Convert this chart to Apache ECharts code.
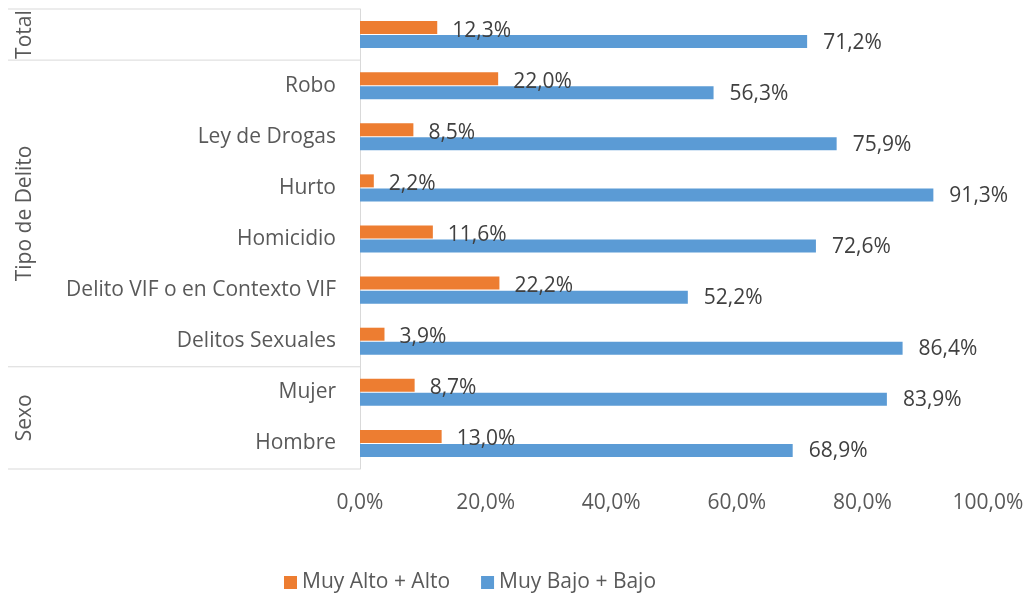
<!DOCTYPE html>
<html>
<head>
<meta charset="utf-8">
<script src="https://cdn.jsdelivr.net/npm/echarts@6/dist/echarts.min.js"></script>
<style>
  html, body { margin: 0; padding: 0; background: #fff; }
  #chart { width: 1027px; height: 594px; }
</style>
</head>
<body>
<div id="chart"></div>
<script>
  // categorias (de arriba hacia abajo)
  const categories = ['Total', 'Robo', 'Ley de Drogas', 'Hurto', 'Homicidio',
    'Delito VIF o en Contexto VIF', 'Delitos Sexuales', 'Mujer', 'Hombre']
  const altoValues = [12.3, 22.0, 8.5, 2.2, 11.6, 22.2, 3.9, 8.7, 13.0]
  const bajoValues = [71.2, 56.3, 75.9, 91.3, 72.6, 52.2, 86.4, 83.9, 68.9]
  const seriesNames = ['Muy Alto + Alto', 'Muy Bajo + Bajo']
  // grupos del eje (nombre y cantidad de categorias)
  const groupNames = ['Total', 'Tipo de Delito', 'Sexo']
  const groupSizes = [1, 6, 2]

  const FONT = 'Open Sans'
  const FS = 21
  const fmt = v => v.toFixed(1).replace('.', ',') + '%'

  const myChart = echarts.init(document.getElementById('chart'))
  const option = {
    animation: false,
    textStyle: { fontFamily: FONT },
    grid: { left: 360, right: 39, top: 9, bottom: 125 },
    legend: {
      bottom: -4,
      left: 279,
      icon: 'rect',
      itemWidth: 13,
      itemHeight: 13,
      itemGap: 31,
      textStyle: { fontSize: FS, color: '#595959', fontFamily: FONT },
      data: seriesNames
    },
    xAxis: {
      type: 'value',
      min: 0,
      max: 100,
      interval: 20,
      splitLine: { show: false },
      axisLine: { show: false },
      axisTick: { show: false },
      axisLabel: {
        margin: 24,
        fontSize: FS,
        color: '#595959',
        formatter: v => fmt(v)
      }
    },
    yAxis: {
      type: 'category',
      inverse: true,
      data: categories,
      axisLine: { show: true, lineStyle: { color: '#d9d9d9', width: 1 } },
      axisTick: { show: false },
      axisLabel: {
        margin: 24,
        fontSize: FS,
        color: '#595959',
        // la fila Total solo lleva la etiqueta de grupo
        formatter: (v, i) => (i === 0 ? '' : v)
      }
    },
    series: [
      {
        name: seriesNames[0],
        type: 'bar',
        data: altoValues,
        barWidth: 13,
        barGap: '8%',
        itemStyle: { color: '#ED7D31' },
        label: {
          show: true,
          position: 'right',
          distance: 15,
          offset: [0, 3],
          fontSize: FS,
          color: '#404040',
          formatter: p => fmt(p.value)
        }
      },
      {
        name: seriesNames[1],
        type: 'bar',
        data: bajoValues,
        barWidth: 13,
        itemStyle: { color: '#5B9BD5' },
        label: {
          show: true,
          position: 'right',
          distance: 16,
          offset: [0, 1],
          fontSize: FS,
          color: '#404040',
          formatter: p => fmt(p.value)
        }
      }
    ]
  }
  myChart.setOption(option)

  // lineas y etiquetas de grupo del eje vertical
  function drawGroups() {
    const c0 = myChart.convertToPixel({ yAxisIndex: 0 }, categories[0])
    const c1 = myChart.convertToPixel({ yAxisIndex: 0 }, categories[1])
    const half = (c1 - c0) / 2
    const axisX = myChart.convertToPixel({ xAxisIndex: 0 }, 0)
    const elements = []
    let idx = 0
    let top = c0 - half
    elements.push({
      type: 'line', shape: { x1: 8, y1: top, x2: axisX, y2: top },
      style: { stroke: '#d9d9d9', lineWidth: 1 }, silent: true
    })
    groupNames.forEach((name, g) => {
      idx += groupSizes[g]
      const bottom = myChart.convertToPixel({ yAxisIndex: 0 }, categories[idx - 1]) + half
      elements.push({
        type: 'line', shape: { x1: 8, y1: bottom, x2: axisX, y2: bottom },
        style: { stroke: '#d9d9d9', lineWidth: 1 }, silent: true
      })
      elements.push({
        type: 'text',
        x: 25,
        y: (top + bottom) / 2,
        rotation: Math.PI / 2,
        style: {
          text: name, fontSize: FS, fontFamily: FONT, fill: '#595959',
          align: 'center', verticalAlign: 'middle'
        },
        silent: true
      })
      top = bottom
    })
    myChart.setOption({ graphic: elements })
  }
  drawGroups()
</script>
</body>
</html>
